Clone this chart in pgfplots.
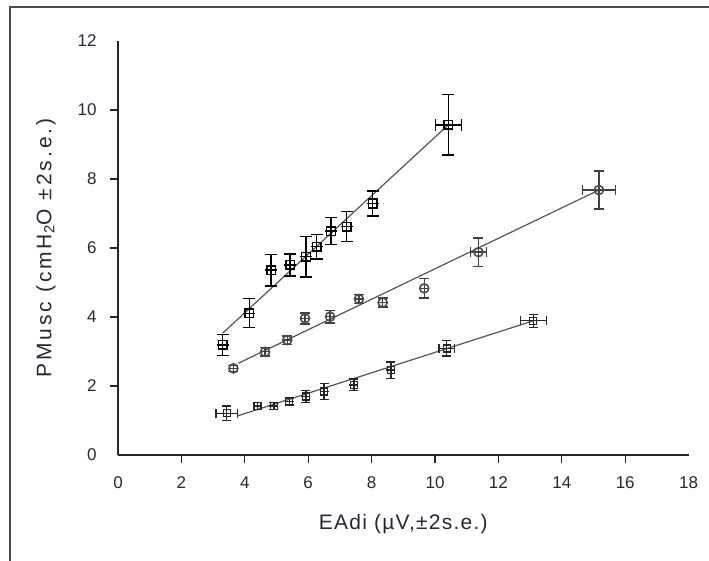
\documentclass[border=0pt]{standalone}
\usepackage{fontspec}
\setmainfont{Liberation Sans}
\usepackage{pgfplots}
\usepackage{pgfplotstable}
\pgfplotsset{compat=1.18}
\definecolor{txt}{HTML}{2A2636}
\definecolor{lin}{HTML}{555555}

\pgfplotstableread{
x y ex ey
3.30 3.19 0 0.31
4.14 4.11 0 0.42
4.83 5.36 0 0.46
5.43 5.51 0 0.32
5.93 5.75 0 0.59
6.27 6.04 0 0.36
6.72 6.49 0 0.39
7.21 6.62 0 0.43
8.03 7.29 0 0.36
10.42 9.57 0.41 0.88
}\topdata

\pgfplotstableread{
x y ex ey
3.64 2.51 0 0.08
4.64 2.99 0 0.12
5.34 3.33 0 0.12
5.90 3.96 0 0.16
6.69 4.01 0 0.18
7.60 4.52 0 0.13
8.35 4.42 0 0.13
9.66 4.83 0 0.28
11.37 5.88 0.25 0.41
15.17 7.68 0.52 0.55
}\middata

\pgfplotstableread{
x y ex ey
3.43 1.21 0.34 0.21
4.40 1.42 0 0.10
4.92 1.42 0 0.10
5.40 1.55 0 0.10
5.93 1.69 0 0.17
6.50 1.84 0 0.23
7.44 2.03 0 0.17
8.61 2.46 0 0.24
10.37 3.09 0.24 0.22
13.10 3.89 0.41 0.19
}\botdata

\begin{document}
\begin{tikzpicture}
\useasboundingbox (0,0) rectangle (709pt,-561pt);
\fill[white] (0,0) rectangle (709pt,-561pt);
\draw[line width=2pt, black!70] (10pt,-562pt) -- (10pt,-7pt) -- (710pt,-7pt);
\begin{axis}[
  scale only axis,
  width=570.6pt, height=414pt,
  at={(118pt,-455pt)}, anchor=south west,
  xmin=0, xmax=18, ymin=0, ymax=12,
  axis x line*=bottom, axis y line*=left,
  axis line style={line width=1.2pt, black!85, -},
  xtick={2,4,...,16}, ytick={2,4,...,10},
  extra x ticks={0,18}, extra y ticks={0,12},
  extra tick style={major tick style={draw=none}},
  tick align=outside,
  major tick length=8pt,
  tick style={line width=1.2pt, black!85},
  /pgf/number format/assume math mode=true,
  ticklabel style={font=\fontsize{17}{19}\selectfont, text=txt},
  xticklabel style={yshift=-10pt},
  yticklabel style={xshift=-10pt},
  xlabel={\addfontfeature{LetterSpace=6}EAdi (µV,±2s.e.)},
  ylabel={\addfontfeature{LetterSpace=14}PMusc (cmH\textsubscript{2}O ±2s.e.)},
  label style={font=\fontsize{21}{23}\selectfont, text=txt},
  xlabel style={yshift=-3pt},
  ylabel style={yshift=-1pt},
  clip=false,
]
% regression lines
\addplot[lin, line width=1.2pt] coordinates {(3.30,3.53) (10.42,9.57)};
\addplot[lin, line width=1.2pt] coordinates {(3.80,2.66) (15.17,7.68)};
\addplot[lin, line width=1.2pt] coordinates {(3.76,1.13) (13.10,3.89)};
% top series
\addplot[only marks, mark=square, mark size=4.3pt, mark options={line width=1.5pt, black, fill=white},
  error bars/.cd, x dir=both, x explicit, y dir=both, y explicit,
  error bar style={line width=1.4pt, black},
  error mark options={rotate=90, mark size=6pt, line width=1.4pt, black}]
  table[x=x, y=y, x error=ex, y error=ey] {\topdata};
% middle series
\addplot[only marks, mark=o, mark size=4.5pt, mark options={line width=1.6pt, black!70, fill=white},
  error bars/.cd, x dir=both, x explicit, y dir=both, y explicit,
  error bar style={line width=1.3pt, black!75},
  error mark options={rotate=90, mark size=5pt, line width=1.3pt, black!75}]
  table[x=x, y=y, x error=ex, y error=ey] {\middata};
% bottom series
\addplot[only marks, mark=square, mark size=3.5pt, mark options={line width=1.4pt, black!85, fill=black!35},
  error bars/.cd, x dir=both, x explicit, y dir=both, y explicit,
  error bar style={line width=1.3pt, black!85},
  error mark options={rotate=90, mark size=4.5pt, line width=1.3pt, black!85}]
  table[x=x, y=y, x error=ex, y error=ey] {\botdata};
\end{axis}
\end{tikzpicture}
\end{document}
